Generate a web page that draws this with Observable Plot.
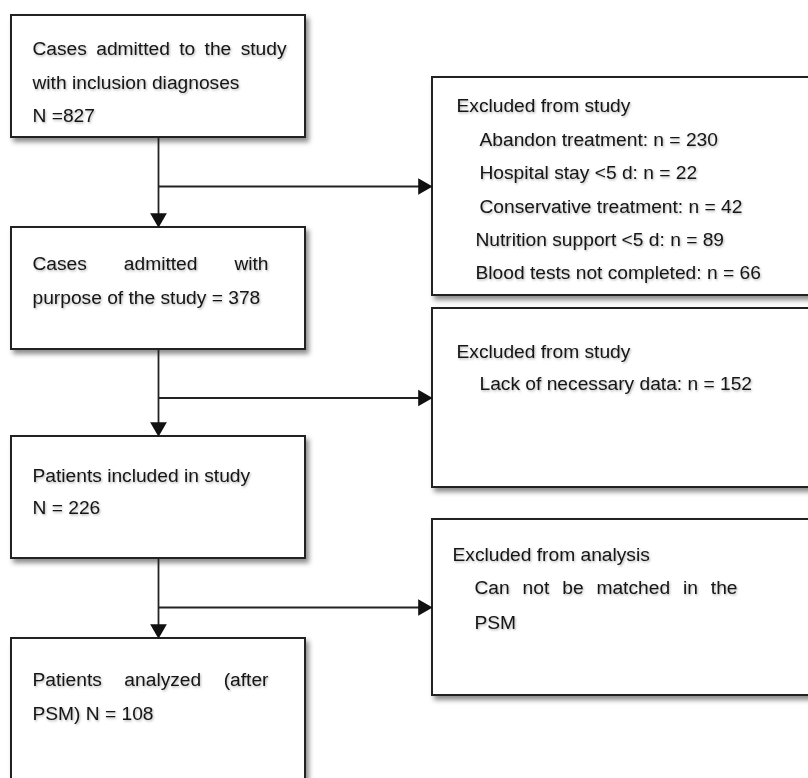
<!DOCTYPE html>
<html><head><meta charset="utf-8">
<script src="https://cdn.jsdelivr.net/npm/d3@7"></script>
<script src="https://cdn.jsdelivr.net/npm/@observablehq/plot@0.6"></script>
<style>html,body{margin:0;padding:0;background:#fff;overflow:hidden}</style>
</head><body><div id="chart"></div>
<script>
// ---------- DATA ----------
const stageN = [827, 378, 226, 108];
const exclusionTitles = ["Excluded from study", "Excluded from study", "Excluded from analysis"];
const reasons1 = ["Abandon treatment", "Hospital stay <5 d", "Conservative treatment", "Nutrition support <5 d", "Blood tests not completed"];
const counts1 = [230, 22, 42, 89, 66];
const reasons2 = ["Lack of necessary data"];
const counts2 = [152];
const reason3 = ["Can not be matched in the", "PSM"];

// ---------- LAYOUT (pixel geometry of the diagram) ----------
const W = 808, H = 778;
const mainBoxes = [
  {x1: 11, x2: 305, y1: 15, y2: 137},
  {x1: 11, x2: 305, y1: 227, y2: 349},
  {x1: 11, x2: 305, y1: 436, y2: 558},
  {x1: 11, x2: 305, y1: 638, y2: 810}
];
const sideBoxes = [
  {x1: 432, x2: 840, y1: 77, y2: 295},
  {x1: 432, x2: 840, y1: 308, y2: 487},
  {x1: 432, x2: 840, y1: 519, y2: 695}
];
const spineX = 158;

const lines = [
  {text: "Cases admitted to the study", x: 32, y: 48, justifyTo: 286},
  {text: "with inclusion diagnoses", x: 32, y: 82},
  {text: `N =${stageN[0]}`, x: 32, y: 115},
  {text: "Cases admitted with", x: 32, y: 263, justifyTo: 268},
  {text: `purpose of the study = ${stageN[1]}`, x: 32, y: 297},
  {text: "Patients included in study", x: 32, y: 475},
  {text: `N = ${stageN[2]}`, x: 32, y: 507},
  {text: "Patients analyzed (after", x: 32, y: 679, justifyTo: 268},
  {text: `PSM) N = ${stageN[3]}`, x: 32, y: 713},
  {text: exclusionTitles[0], x: 456, y: 105},
  ...reasons1.map((r, i) => ({text: `${r}: n = ${counts1[i]}`, x: i < 3 ? 479 : 475, y: [139, 172, 206, 239, 272][i]})),
  {text: exclusionTitles[1], x: 456, y: 351},
  ...reasons2.map((r, i) => ({text: `${r}: n = ${counts2[i]}`, x: 479, y: 383})),
  {text: exclusionTitles[2], x: 452, y: 554},
  {text: reason3[0], x: 474, y: 587, justifyTo: 737},
  {text: reason3[1], x: 474, y: 622}
];

// ---------- BUILD ----------
const FONT_SIZE = 19.2;
const FAMILY = "'Liberation Sans', Arial, Helvetica, sans-serif";
const ctx = document.createElement("canvas").getContext("2d");
ctx.font = `${FONT_SIZE}px ${FAMILY}`;
function tokens(line) {
  if (!line.justifyTo) return [{text: line.text, x: line.x, y: line.y}];
  const ws = line.text.split(" ");
  const widths = ws.map(w => ctx.measureText(w).width);
  const gap = (line.justifyTo - line.x - d3.sum(widths)) / (ws.length - 1);
  let x = line.x;
  return ws.map((w, i) => { const o = {text: w, x, y: line.y}; x += widths[i] + gap; return o; });
}
const textTokens = lines.flatMap(tokens);

const boxes = [...mainBoxes, ...sideBoxes];
const links = [];
const downHeads = [];
const rightHeads = [];
for (let i = 0; i < 3; i++) {
  const a = mainBoxes[i], b = mainBoxes[i + 1], s = sideBoxes[i];
  const ym = (s.y1 + s.y2) / 2;
  links.push({x1: spineX, y1: a.y2, x2: spineX, y2: b.y1 - 5});
  links.push({x1: spineX, y1: ym, x2: s.x1 - 5, y2: ym});
  downHeads.push({x: spineX, y: b.y1});
  rightHeads.push({x: s.x1, y: ym});
}

const svg = Plot.plot({
  width: W, height: H,
  margin: 0,
  x: {type: "identity", axis: null},
  y: {type: "identity", axis: null},
  style: {fontFamily: FAMILY, fontSize: FONT_SIZE + "px", background: "white", overflow: "hidden"},
  marks: [
    Plot.rect(boxes, {x1: "x1", x2: "x2", y1: "y1", y2: "y2", fill: "white", stroke: "#222", strokeWidth: 2}),
    Plot.link(links, {x1: "x1", y1: "y1", x2: "x2", y2: "y2", stroke: "#222", strokeWidth: 1.8}),
    Plot.dot(downHeads, {x: "x", y: "y", symbol: "triangle", r: 6.2, rotate: 180, dy: -9.5, fill: "#111", stroke: "none"}),
    Plot.dot(rightHeads, {x: "x", y: "y", symbol: "triangle", r: 6.2, rotate: 90, dx: -9.5, fill: "#111", stroke: "none"}),
    Plot.text(textTokens, {x: "x", y: "y", text: "text", textAnchor: "start", lineAnchor: "middle", fontSize: FONT_SIZE, fill: "#141414"})
  ]
});

const ns = "http://www.w3.org/2000/svg";
const defs = document.createElementNS(ns, "defs");
defs.innerHTML = `
  <filter id="boxShadow" x="-5%" y="-5%" width="115%" height="115%">
    <feDropShadow dx="3" dy="4" stdDeviation="2.5" flood-color="#000" flood-opacity="0.45"/>
  </filter>
  <filter id="textShadow" x="-5%" y="-20%" width="115%" height="150%">
    <feDropShadow dx="1" dy="1.3" stdDeviation="0.9" flood-color="#000" flood-opacity="0.3"/>
  </filter>`;
svg.insertBefore(defs, svg.firstChild);
const rg = svg.querySelector('g[aria-label="rect"]');
if (rg) rg.setAttribute("filter", "url(#boxShadow)");
const tg = svg.querySelector('g[aria-label="text"]');
if (tg) tg.setAttribute("filter", "url(#textShadow)");
document.getElementById("chart").appendChild(svg);
</script></body></html>
